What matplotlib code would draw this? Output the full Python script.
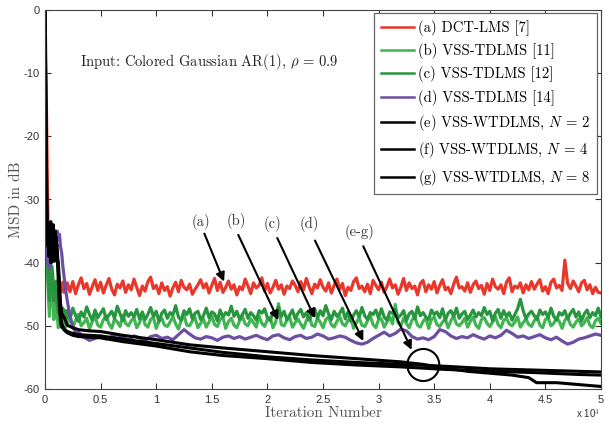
import matplotlib

matplotlib.use("Agg")
import matplotlib.pyplot as plt
import numpy as np
from matplotlib.patches import Ellipse

plt.rcParams["font.family"] = "cmr10"
plt.rcParams["mathtext.fontset"] = "cm"
plt.rcParams["axes.unicode_minus"] = False
plt.rcParams["axes.formatter.use_mathtext"] = True

TICK_FONT = "Liberation Sans"

# ---- data (MSD in dB vs iteration) ----
# transient part
red_tr_x = [0, 50, 100, 150, 200, 250, 300, 350, 400, 500, 600, 700, 800, 900, 1000,
            1100, 1200, 1300, 1400, 1500, 1600, 1700, 1800, 1900]
red_tr_y = [0, -5, -12, -19, -26, -32, -37, -40.5, -43, -45.2, -44, -45.6, -43.6, -44.8,
            -42.9, -44.3, -43.5, -45.0, -43.8, -44.4, -43.1, -44.7, -43.9, -44.2]

green_tr_x = [0, 100, 200, 300, 400, 500, 600, 700, 800, 900, 1000, 1100, 1200, 1300,
              1400, 1500, 1600, 1700, 1800, 1900]
green_b_tr_y = [-22, -34, -40, -45, -48.5, -46, -41, -44, -49, -47.5, -45, -48.5, -50.3,
                -48.4, -49.6, -48.0, -50.0, -49.3, -48.6, -50.1]
green_c_tr_y = [-20, -32, -39, -43, -46, -44, -40.5, -42, -46, -45, -43, -46.5, -48,
                -46.5, -47.5, -48.8, -47.2, -48.4, -47.6, -48.9]

purple_tr_x = [0, 100, 200, 300, 400, 600, 800, 1000, 1100, 1200, 1300, 1400, 1500, 1600,
               1800, 2000, 2200, 2400, 2600, 2800]
purple_tr_y = [-21, -33, -40, -38, -41, -39, -38, -36, -35, -36.5, -35.5, -37.5, -38.5,
               -40.5, -43.5, -46, -48, -49.5, -50.5, -51.2]

# steady state, read every 250 iterations from 2000
red_ss = [
    -43.2, -44.6, -43.0, -44.9, -43.5, -42.4, -44.1, -43.3, -45.0, -43.8, -42.7, -44.4,
    -43.1, -44.8, -43.6, -42.5, -44.2, -45.1, -43.4, -44.0, -42.9, -44.7, -43.5, -44.3,
    -42.6, -43.9, -45.2, -43.7, -44.5, -43.0, -42.3, -44.1, -43.6, -44.9, -43.2, -44.4,
    -43.8, -45.3, -44.0, -43.1, -44.6, -42.8, -43.9, -44.3, -43.4, -45.0, -44.2, -43.5,
    -42.7, -44.0, -43.3, -44.8, -43.6, -42.5, -44.4, -43.1, -44.7, -43.9, -42.9, -44.2,
    -43.5, -45.1, -43.8, -44.3, -42.6, -43.7, -44.9, -43.2, -44.0, -43.6, -42.4, -44.5,
    -43.3, -44.8, -43.9, -42.8, -44.2, -43.5, -45.0, -43.7, -44.1, -42.9, -43.6, -44.6,
    -43.0, -44.3, -42.5, -43.8, -44.9, -43.4, -44.0, -42.7, -43.9, -44.5, -43.2, -44.8,
    -43.6, -42.6, -44.2, -43.3, -45.2, -43.9, -44.4, -43.0, -42.4, -44.1, -43.7, -44.6,
    -43.4, -44.9, -42.8, -43.6, -44.3, -43.1, -44.7, -43.8, -42.6, -44.0, -43.5, -45.0,
    -43.9, -42.5, -44.4, -43.2, -44.1, -43.7, -45.1, -43.3, -42.8, -44.6, -43.5, -44.2,
    -43.0, -44.8, -43.6, -42.7, -44.3, -43.9, -44.9, -43.4, -42.3, -44.0, -43.8, -44.5,
    -43.2, -44.7, -43.5, -42.9, -44.1, -43.6, -45.0, -43.3, -44.4, -42.6, -43.8, -44.2,
    -43.5, -44.9, -43.1, -42.4, -44.6, -43.7, -44.0, -43.2, -44.8, -43.5, -44.3, -43.0,
    -44.2, -43.4, -42.7, -44.5, -43.8, -44.9, -43.1, -42.6, -44.0, -43.6, -44.4, -39.6,
    -43.3, -44.1, -42.9, -43.7, -44.6, -43.2, -42.8, -44.3, -43.5, -44.9, -43.9, -44.7,
    -44.8,
]
green_c_ss = [
    -47.6, -48.9, -47.2, -48.4, -49.3, -47.8, -48.6, -47.0, -48.2, -49.1, -47.5, -48.7,
    -48.0, -47.3, -49.0, -48.3, -47.7, -48.8, -46.9, -48.1, -49.2, -47.6, -48.5, -47.9,
    -48.6, -47.4, -48.9, -47.8, -49.0, -48.2, -47.1, -48.5, -47.7, -49.3, -48.0, -47.5,
    -48.8, -47.9, -48.3, -46.8, -48.6, -49.1, -47.6, -48.2, -47.3, -48.9, -48.0, -47.7,
    -49.0, -48.4, -47.2, -48.7, -47.8, -48.1, -49.2, -47.5, -48.6, -47.9, -48.3, -46.9,
    -48.5, -47.7, -49.0, -48.2, -47.4, -48.8, -47.9, -48.4, -49.1, -47.6, -48.0, -47.3,
    -48.7, -49.2, -47.8, -48.1, -47.0, -48.5, -47.7, -49.0, -48.3, -47.5, -48.9, -48.0,
    -47.4, -48.6, -47.9, -49.1, -48.2, -47.3, -48.8, -47.6, -48.4, -46.8, -48.1, -49.0,
    -47.7, -48.5, -48.0, -47.2, -48.9, -47.8, -49.3, -48.3, -47.6, -48.6, -47.1, -48.4,
    -49.0, -47.9, -48.2, -47.5, -48.8, -47.3, -48.6, -49.1, -47.8, -48.0, -47.4, -48.7,
    -48.3, -47.6, -49.2, -48.1, -47.7, -48.9, -47.0, -48.4, -47.9, -48.6, -49.0, -47.5,
    -48.2, -47.8, -48.7, -47.3, -49.1, -48.0, -47.6, -48.5, -47.2, -48.8, -48.1, -47.7,
    -49.0, -48.3, -47.5, -48.6, -47.9, -48.4, -47.1, -48.2, -47.7, -49.2, -48.0, -47.4,
    -48.8, -47.6, -48.5, -47.9, -49.1, -48.2, -47.3, -45.8, -47.6, -48.9, -48.1, -47.7,
    -48.4, -49.0, -47.5, -48.2, -47.8, -48.7, -47.2, -48.5, -49.1, -47.9, -48.3, -47.6,
    -48.9, -48.0, -47.4, -48.6, -47.8, -49.2, -48.1, -47.5, -48.7, -47.9, -48.4, -47.2,
    -48.6,
]
green_b_ss = [
    -49.8, -48.6, -50.3, -49.1, -48.2, -50.0, -49.5, -48.8, -50.5, -49.3, -48.5, -49.9,
    -50.2, -49.0, -48.4, -49.7, -50.4, -48.9, -49.4, -50.1, -48.3, -49.6, -50.0, -49.2,
    -48.7, -50.3, -49.5, -48.1, -49.8, -50.2, -49.0, -48.6, -50.4, -49.3, -48.8, -49.9,
    -50.1, -49.4, -48.5, -49.7, -50.5, -49.1, -48.3, -49.9, -50.0, -49.2, -48.7, -50.3,
    -49.6, -48.9, -50.2, -49.4, -48.4, -49.8, -50.1, -49.0, -48.6, -50.4, -49.3, -48.8,
    -49.9, -50.3, -49.2, -48.5, -49.7, -50.0, -48.9, -49.5, -50.2, -48.4, -49.6, -50.1,
    -49.0, -48.7, -50.3, -49.4, -46.5, -49.8, -50.0, -49.1, -48.6, -50.2, -49.5, -48.9,
    -49.7, -50.4, -49.2, -48.3, -49.9, -50.1, -48.8, -49.4, -50.3, -49.0, -48.6, -49.8,
    -50.2, -49.3, -48.5, -49.7, -50.0, -49.1, -48.8, -50.4, -49.5, -48.7, -49.9, -50.1,
    -49.2, -48.4, -49.8, -50.3, -49.0, -48.9, -50.2, -49.4, -48.6, -49.7, -46.6, -49.5,
    -50.0, -48.8, -49.6, -50.3, -49.1, -48.5, -49.9, -50.2, -49.3, -48.7, -50.4, -49.0,
    -48.6, -49.8, -50.1, -49.4, -48.9, -50.3, -49.2, -48.4, -49.7, -50.0, -49.5, -48.8,
    -50.2, -49.3, -48.6, -49.9, -50.4, -49.0, -48.7, -49.6, -50.1, -49.4, -48.5, -49.8,
    -50.3, -49.1, -48.8, -49.7, -50.0, -49.4, -48.6, -50.2, -49.5, -48.9, -49.8, -50.1,
    -49.2, -48.5, -49.9, -50.3, -49.0, -48.7, -50.0, -49.6, -48.8, -49.3, -50.4, -49.1,
    -48.6, -49.8, -50.2, -49.4, -48.9, -50.0, -49.5, -48.7, -49.9, -50.3, -49.2, -48.8,
    -49.6,
]
# purple read every 500 iterations from 3000
purple_ss = [
    -51.0, -51.8, -52.3, -52.0, -51.6, -52.1, -51.7, -51.4, -51.9, -52.2,
    -51.6, -51.9, -52.3, -51.7, -51.5, -52.0, -51.8, -52.2, -51.4, -50.6,
    -51.3, -51.9, -52.1, -51.7, -51.9, -52.3, -51.8, -51.6, -52.0, -51.7,
    -52.1, -51.8, -51.5, -51.9, -52.2, -51.6, -51.4, -51.9, -52.2, -51.7,
    -51.5, -52.0, -51.8, -51.3, -51.6, -52.1, -51.9, -51.6, -51.8, -52.3,
    -52.7, -52.9, -52.6, -52.0, -51.5, -51.0, -51.6, -51.2, -50.5, -50.8,
    -51.7, -52.1, -51.9, -52.2, -51.7, -50.6, -50.9, -51.6, -52.0, -51.7,
    -51.9, -51.4, -51.8, -52.1, -51.6, -51.9, -51.5, -50.7, -51.2, -51.8,
    -51.6, -52.0, -51.7, -51.4, -51.9, -52.2, -51.8, -52.4, -52.9, -52.6,
    -52.1, -51.9, -51.6, -51.3, -51.5,
]

# black curves (proposed method)
black_x = [0, 60, 120, 170, 220, 280, 340, 400, 460, 520, 580, 640, 700, 760, 820, 880,
           940, 1000, 1060, 1120, 1200, 1300, 1400, 1500, 1600, 1800, 2000, 2500, 3000,
           4000, 5000, 7000, 10000, 13000, 16000, 20000, 24000, 28000, 32000, 36000,
           40000, 44000, 48000, 50000]
black_e_y = [0, -12, -24, -33, -36, -34, -38, -35, -39, -33.5, -37, -36, -39.5, -34, -38,
             -36.5, -35, -39, -37, -38.5, -41, -45, -48.5, -49.6, -50.1, -50.6, -50.9,
             -51.2, -51.4, -51.5, -51.6, -52.1, -52.8, -53.5, -54.2, -54.9, -55.4, -55.8,
             -56.1, -56.4, -56.8, -57.0, -57.2, -57.3]
black_f_y = [0, -10, -22, -32, -35, -37.5, -34, -38.5, -36, -40, -35, -38, -34.5, -37,
             -39.8, -35.5, -38, -36, -39, -40, -43, -47, -49.5, -50.2, -50.4, -50.8, -51.1,
             -51.5, -51.7, -51.8, -51.9, -52.5, -53.2, -54.1, -54.7, -55.2, -55.8, -56.2,
             -56.5, -56.9, -57.2, -57.4, -57.7, -57.8]
black_g_x = [0, 60, 120, 170, 220, 280, 340, 400, 460, 520, 580, 640, 700, 760, 820, 880,
             940, 1000, 1060, 1120, 1200, 1300, 1400, 1500, 1600, 1800, 2000, 2500, 3000,
             4000, 5000, 7000, 10000, 13000, 16000, 20000, 24000, 28000, 32000, 34000,
             36000, 38000, 40000, 42000, 43500, 44200, 46000, 48000, 50000]
black_g_y = [0, -14, -26, -34, -37, -35, -39, -36.5, -34, -38, -40, -35.5, -37.5, -39, -35,
             -37, -39.5, -36, -38, -39.5, -40, -43, -46.5, -48.0, -48.3, -49.0, -49.9,
             -50.3, -50.6, -50.8, -50.9, -51.5, -52.2, -53.0, -53.5, -54.1, -54.7, -55.2,
             -55.7, -56.1, -56.7, -57.2, -57.5, -57.8, -58.2, -59.0, -59.0, -59.3, -59.6]

legend_labels = [
    "(a) DCT-LMS [7]",
    "(b) VSS-TDLMS [11]",
    "(c) VSS-TDLMS [12]",
    "(d) VSS-TDLMS [14]",
    r"(e) VSS-WTDLMS, $N\,=\,2$",
    r"(f) VSS-WTDLMS, $N\,=\,4$",
    r"(g) VSS-WTDLMS, $N\,=\,8$",
]
colors = ["#e8382c", "#40b552", "#27963f", "#6b4fa3", "black", "black", "black"]

xticks = [0, 5000, 10000, 15000, 20000, 25000, 30000, 35000, 40000, 45000, 50000]
xtick_labels = ["0", "0.5", "1", "1.5", "2", "2.5", "3", "3.5", "4", "4.5", "5"]
yticks = [-60, -50, -40, -30, -20, -10, 0]
ytick_labels = ["-60", "-50", "-40", "-30", "-20", "-10", "0"]

# label, label pos, arrow start, arrow end
arrow_notes = [
    ("(a)", (14000, -33.5), (14330, -35.4), (16100, -43.0)),
    ("(b)", (17240, -33.4), (17380, -35.6), (20980, -49.1)),
    ("(c)", (20480, -33.8), (20890, -36.1), (24280, -48.8)),
    ("(d)", (23770, -33.8), (24280, -36.5), (28620, -52.4)),
    ("(e-g)", (28240, -35.2), (28620, -37.4), (32970, -53.8)),
]

# ---- build the series ----
ss_iter = 2000 + 250 * np.arange(len(red_ss))
purple_iter = 3000 + 500 * np.arange(len(purple_ss))

series = [
    (np.r_[red_tr_x, ss_iter], np.r_[red_tr_y, red_ss]),
    (np.r_[green_tr_x, ss_iter[:len(green_b_ss)]], np.r_[green_b_tr_y, green_b_ss]),
    (np.r_[green_tr_x, ss_iter[:len(green_c_ss)]], np.r_[green_c_tr_y, green_c_ss]),
    (np.r_[purple_tr_x, purple_iter], np.r_[purple_tr_y, purple_ss]),
    (np.asarray(black_x), np.asarray(black_e_y)),
    (np.asarray(black_x), np.asarray(black_f_y)),
    (np.asarray(black_g_x), np.asarray(black_g_y)),
]

fig = plt.figure(figsize=(6.05, 4.23), dpi=100)
ax = fig.add_axes([45 / 605, 1 - 389 / 423, 556 / 605, 379 / 423])

for (x, y), c, lab in zip(series, colors, legend_labels):
    lw = 2.2 if c == "black" else 2.3
    ax.plot(x, y, color=c, lw=lw, label=lab)

ax.set_xlim(0, 50000)
ax.set_ylim(-60, 0)
ax.set_xticks(xticks, labels=xtick_labels)
ax.set_yticks(yticks, labels=ytick_labels)
ax.tick_params(direction="in", length=4, width=0.8, top=True, right=True,
               labelsize=8, colors="#333333", pad=4)
for lbl in ax.get_xticklabels() + ax.get_yticklabels():
    lbl.set_fontfamily(TICK_FONT)
for sp in ax.spines.values():
    sp.set_color("#444444")
    sp.set_linewidth(0.8)

ax.set_xlabel("Iteration Number", fontsize=11, color="#555555", labelpad=1)
ax.set_ylabel("MSD in dB", fontsize=11, color="#555555", labelpad=0.5)
ax.text(0.9975, -0.066, "x 10$^{4}$", transform=ax.transAxes, ha="right", va="center",
        fontsize=7, family=TICK_FONT, color="#333333")

ax.text(3150, -8.2, r"Input: Colored Gaussian AR(1), $\rho\,=\,0.9$", fontsize=10.5,
        va="center", ha="left", color="#222222")

for lab, tpos, start, end in arrow_notes:
    ax.text(tpos[0], tpos[1], lab, fontsize=10.5, ha="center", va="center", color="#333333")
    ax.annotate("", xy=end, xytext=start,
                arrowprops=dict(arrowstyle="-|>", color="black", lw=1.5,
                                mutation_scale=13, shrinkA=0, shrinkB=0))

ax.add_patch(Ellipse((34020, -56.2), 2878, 5.07, fill=False, ec="black", lw=1.5))

leg = ax.legend(loc="upper right", bbox_to_anchor=(0.9928, 0.9913), borderaxespad=0,
                fontsize=10.5, handlelength=2.3, handletextpad=0.25, labelspacing=0.5,
                fancybox=False, framealpha=1, edgecolor="#666666", borderpad=0.45)
leg.get_frame().set_linewidth(0.9)
for h in leg.get_lines():
    h.set_linewidth(1.8)

fig.savefig("out.png", dpi=100)
